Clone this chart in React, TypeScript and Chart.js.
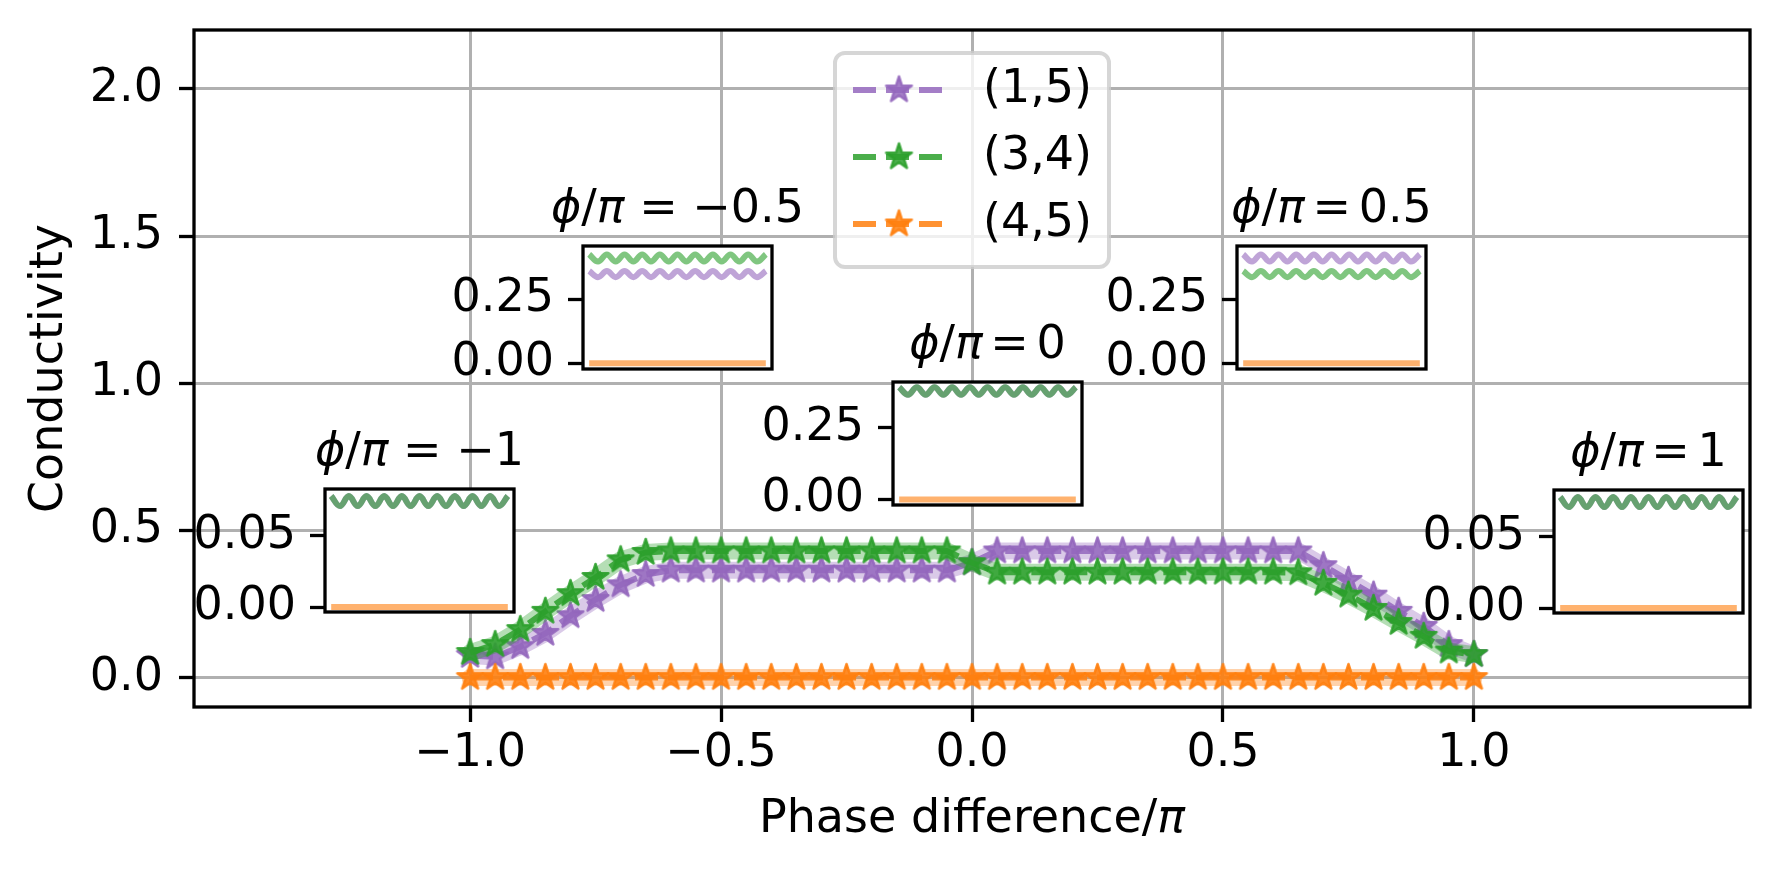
import React, { useEffect, useRef } from 'react';
import { Chart, registerables } from 'chart.js';

Chart.register(...registerables);

// main panel data
const phaseX = [
  -1.0, -0.95, -0.9, -0.85, -0.8, -0.75, -0.7, -0.65, -0.6, -0.55,
  -0.5, -0.45, -0.4, -0.35, -0.3, -0.25, -0.2, -0.15, -0.1, -0.05,
  0.0,
  0.05, 0.1, 0.15, 0.2, 0.25, 0.3, 0.35, 0.4, 0.45, 0.5,
  0.55, 0.6, 0.65, 0.7, 0.75, 0.8, 0.85, 0.9, 0.95, 1.0,
];
const conductivity15 = [
  0.075, 0.07, 0.105, 0.15, 0.21, 0.265, 0.315, 0.35, 0.365, 0.365,
  0.365, 0.365, 0.365, 0.365, 0.365, 0.365, 0.365, 0.365, 0.365, 0.365,
  0.39,
  0.43, 0.43, 0.43, 0.43, 0.43, 0.43, 0.43, 0.43, 0.43, 0.43,
  0.43, 0.43, 0.43, 0.38, 0.33, 0.28, 0.225, 0.174, 0.112, 0.078,
];
const conductivity34 = [
  0.085, 0.112, 0.163, 0.225, 0.285, 0.34, 0.4, 0.425, 0.43, 0.43,
  0.43, 0.43, 0.43, 0.43, 0.43, 0.43, 0.43, 0.43, 0.43, 0.43,
  0.39,
  0.358, 0.358, 0.358, 0.358, 0.358, 0.358, 0.358, 0.358, 0.358, 0.358,
  0.358, 0.358, 0.356, 0.32, 0.28, 0.235, 0.187, 0.14, 0.09, 0.078,
];
const conductivity45 = [
  0, 0, 0, 0, 0, 0, 0, 0, 0, 0,
  0, 0, 0, 0, 0, 0, 0, 0, 0, 0,
  0,
  0, 0, 0, 0, 0, 0, 0, 0, 0, 0,
  0, 0, 0, 0, 0, 0, 0, 0, 0, 0,
];
const seriesLabels = ['(1,5)', '(3,4)', '(4,5)'];
const xTickValues = [-1, -0.5, 0, 0.5, 1];
const yTickValues = [0, 0.5, 1, 1.5, 2];

// inset traces (21 samples each)
const edgeWave = [
  0.078, 0.071, 0.078, 0.071, 0.078, 0.071, 0.078, 0.071, 0.078, 0.071, 0.078,
  0.071, 0.078, 0.071, 0.078, 0.071, 0.078, 0.071, 0.078, 0.071, 0.078,
];
const upperWave = [
  0.426, 0.398, 0.426, 0.398, 0.426, 0.398, 0.426, 0.398, 0.426, 0.398, 0.426,
  0.398, 0.426, 0.398, 0.426, 0.398, 0.426, 0.398, 0.426, 0.398, 0.426,
];
const lowerWave = [
  0.361, 0.337, 0.361, 0.337, 0.361, 0.337, 0.361, 0.337, 0.361, 0.337, 0.361,
  0.337, 0.361, 0.337, 0.361, 0.337, 0.361, 0.337, 0.361, 0.337, 0.361,
];
const centreWave = [
  0.391, 0.365, 0.391, 0.365, 0.391, 0.365, 0.391, 0.365, 0.391, 0.365, 0.391,
  0.365, 0.391, 0.365, 0.391, 0.365, 0.391, 0.365, 0.391, 0.365, 0.391,
];
const flatZero = [0, 0, 0, 0, 0, 0, 0, 0, 0, 0, 0, 0, 0, 0, 0, 0, 0, 0, 0, 0, 0];
const insetPhaseLabels = ['−1', '−0.5', '0', '0.5', '1'];
const edgeTicks = [0, 0.05];
const midTicks = [0, 0.25];

const PURPLE = '148,103,189';
const GREEN = '44,160,44';
const ORANGE = '255,127,14';
const FONT = '"DejaVu Sans", sans-serif';
const FS = 46;

const W = 1779;
const H = 873;

// inset geometry
const IN_W = 189;
const IN_H = 123;
const PAD_L = 140;
const PAD_T = 80;
const PAD_R = 60;
const PAD_B = 30;

const insetSpecs = [
  { left: 325, top: 489, yMin: -0.0035, yMax: 0.083, ticks: edgeTicks, purple: edgeWave, green: edgeWave, label: insetPhaseLabels[0] },
  { left: 583, top: 246, yMin: -0.022, yMax: 0.459, ticks: midTicks, purple: lowerWave, green: upperWave, label: insetPhaseLabels[1] },
  { left: 893, top: 382, yMin: -0.0195, yMax: 0.4095, ticks: midTicks, purple: centreWave, green: centreWave, label: insetPhaseLabels[2] },
  { left: 1237, top: 246, yMin: -0.022, yMax: 0.459, ticks: midTicks, purple: upperWave, green: lowerWave, label: insetPhaseLabels[3] },
  { left: 1554, top: 490, yMin: -0.0035, yMax: 0.083, ticks: edgeTicks, purple: edgeWave, green: edgeWave, label: insetPhaseLabels[4] },
];

function makeStar(rgb: string, radius: number): HTMLCanvasElement {
  const size = Math.ceil(radius * 2 + 6);
  const c = document.createElement('canvas');
  c.width = size;
  c.height = size;
  const g = c.getContext('2d')!;
  const cx = size / 2;
  const cy = size / 2;
  g.beginPath();
  for (let i = 0; i < 10; i++) {
    const r = i % 2 === 0 ? radius : radius * 0.382;
    const a = -Math.PI / 2 + (i * Math.PI) / 5;
    const px = cx + r * Math.cos(a);
    const py = cy + r * Math.sin(a);
    if (i === 0) g.moveTo(px, py);
    else g.lineTo(px, py);
  }
  g.closePath();
  g.fillStyle = `rgba(${rgb},0.85)`;
  g.fill();
  g.lineJoin = 'round';
  g.lineWidth = 2.5;
  g.strokeStyle = `rgba(${rgb},0.9)`;
  g.stroke();
  return c;
}

type Seg = { text: string; italic?: boolean };

function drawRich(ctx: CanvasRenderingContext2D, segs: Seg[], cx: number, baseline: number) {
  const fontOf = (s: Seg) => `${s.italic ? 'italic ' : ''}${FS}px ${FONT}`;
  const widths = segs.map((s) => {
    ctx.font = fontOf(s);
    return ctx.measureText(s.text).width;
  });
  const total = widths.reduce((a, b) => a + b, 0);
  let x = cx - total / 2;
  ctx.textAlign = 'left';
  ctx.textBaseline = 'alphabetic';
  ctx.fillStyle = '#000';
  segs.forEach((s, i) => {
    ctx.font = fontOf(s);
    ctx.fillText(s.text, x, baseline);
    x += widths[i];
  });
}

const fmtMinus = (v: number, digits: number) => v.toFixed(digits).replace('-', '−');

function MainChart() {
  const ref = useRef<HTMLCanvasElement>(null);

  useEffect(() => {
    if (!ref.current) return;
    const stars = [makeStar(PURPLE, 13.5), makeStar(GREEN, 13.5), makeStar(ORANGE, 13.5)];
    const colors = [PURPLE, GREEN, ORANGE];
    const values = [conductivity15, conductivity34, conductivity45];

    // Chart.js paints the first dataset last, so build the stack top-down
    const datasets: any[] = [];
    values.forEach((vals, i) => {
      const pts = phaseX.map((x, j) => ({ x, y: vals[j] }));
      datasets.unshift({
        data: pts,
        borderColor: `rgba(${colors[i]},0.35)`,
        borderWidth: 17,
        borderJoinStyle: 'round',
        borderCapStyle: 'round',
        pointRadius: 0,
        fill: false,
      });
      datasets.unshift({
        label: seriesLabels[i],
        data: pts,
        borderColor: `rgba(${colors[i]},0.85)`,
        borderWidth: 6,
        borderDash: [23, 10],
        pointStyle: stars[i],
        pointRadius: 13,
        fill: false,
      });
    });

    const framePlugin = {
      id: 'frame',
      afterDatasetsDraw(chart: any) {
        const { ctx, chartArea: a } = chart;
        ctx.save();
        ctx.strokeStyle = '#000';
        ctx.lineWidth = 3.3;
        ctx.strokeRect(a.left, a.top, a.right - a.left, a.bottom - a.top);
        ctx.restore();
      },
    };

    const xLabelPlugin = {
      id: 'xLabel',
      afterDraw(chart: any) {
        const { ctx, chartArea: a } = chart;
        ctx.save();
        drawRich(ctx, [{ text: 'Phase difference/' }, { text: 'π', italic: true }], (a.left + a.right) / 2, 832);
        ctx.restore();
      },
    };

    const legendPlugin = {
      id: 'starLegend',
      afterDraw(chart: any) {
        const { ctx, chartArea: a } = chart;
        const x0 = a.left + 641;
        const y0 = a.top + 23;
        const w = 274;
        const h = 214;
        const r = 10;
        ctx.save();
        ctx.beginPath();
        ctx.moveTo(x0 + r, y0);
        ctx.arcTo(x0 + w, y0, x0 + w, y0 + h, r);
        ctx.arcTo(x0 + w, y0 + h, x0, y0 + h, r);
        ctx.arcTo(x0, y0 + h, x0, y0, r);
        ctx.arcTo(x0, y0, x0 + w, y0, r);
        ctx.closePath();
        ctx.fillStyle = 'rgba(255,255,255,0.8)';
        ctx.fill();
        ctx.lineWidth = 4;
        ctx.strokeStyle = 'rgba(204,204,204,0.8)';
        ctx.stroke();
        seriesLabels.forEach((lab, i) => {
          const cy = y0 + 37 + i * 67;
          ctx.setLineDash([23, 10]);
          ctx.lineWidth = 6;
          ctx.strokeStyle = `rgba(${colors[i]},0.85)`;
          ctx.beginPath();
          ctx.moveTo(x0 + 18, cy);
          ctx.lineTo(x0 + 108, cy);
          ctx.stroke();
          ctx.setLineDash([]);
          const s = stars[i];
          ctx.drawImage(s, x0 + 64 - s.width / 2, cy - s.height / 2);
          ctx.font = `${FS}px ${FONT}`;
          ctx.fillStyle = '#000';
          ctx.textAlign = 'left';
          ctx.textBaseline = 'middle';
          ctx.fillText(lab, x0 + 148, cy);
        });
        ctx.restore();
      },
    };

    const tickFont = { family: FONT, size: FS };
    const chart = new Chart(ref.current, {
      type: 'line',
      data: { datasets },
      options: {
        animation: false,
        responsive: false,
        devicePixelRatio: 1,
        events: [],
        layout: { padding: { left: 0, right: W - 1750, top: 30, bottom: 0 } },
        plugins: { legend: { display: false }, tooltip: { enabled: false } },
        elements: { line: { tension: 0 } },
        scales: {
          x: {
            type: 'linear',
            min: -1.55,
            max: 1.55,
            afterBuildTicks: (s: any) => {
              s.ticks = xTickValues.map((value) => ({ value }));
            },
            afterFit: (s: any) => {
              s.height = H - 707;
              s.paddingLeft = 0;
              s.paddingRight = 0;
            },
            grid: { color: '#b0b0b0', lineWidth: 3, tickLength: 15, tickColor: '#000', tickWidth: 3.3 },
            border: { display: false },
            ticks: {
              font: tickFont,
              color: '#000',
              padding: 4,
              autoSkip: false,
              maxRotation: 0,
              callback: (v: any) => fmtMinus(Number(v), 1),
            },
          },
          y: {
            type: 'linear',
            min: -0.1,
            max: 2.2,
            afterBuildTicks: (s: any) => {
              s.ticks = yTickValues.map((value) => ({ value }));
            },
            afterFit: (s: any) => {
              s.width = 194;
              s.paddingTop = 0;
              s.paddingBottom = 0;
            },
            grid: { color: '#b0b0b0', lineWidth: 3, tickLength: 15, tickColor: '#000', tickWidth: 3.3 },
            border: { display: false },
            ticks: {
              font: tickFont,
              color: '#000',
              padding: 16,
              callback: (v: any) => fmtMinus(Number(v), 1),
            },
            title: {
              display: true,
              text: 'Conductivity',
              color: '#000',
              font: { family: FONT, size: FS },
              padding: { top: 22, bottom: 0 },
            },
          },
        },
      } as any,
      plugins: [framePlugin, xLabelPlugin, legendPlugin],
    });

    return () => chart.destroy();
  }, []);

  return (
    <canvas
      ref={ref}
      width={W}
      height={H}
      style={{ position: 'absolute', left: 0, top: 0, width: W, height: H }}
    />
  );
}

function InsetChart({ spec }: { spec: (typeof insetSpecs)[number] }) {
  const ref = useRef<HTMLCanvasElement>(null);
  const cw = PAD_L + IN_W + PAD_R;
  const ch = PAD_T + IN_H + PAD_B;

  useEffect(() => {
    if (!ref.current) return;
    const toPts = (vals: number[]) => vals.map((y, i) => ({ x: i, y }));
    const trace = (vals: number[], rgb: string) => ({
      data: toPts(vals),
      borderColor: `rgba(${rgb},0.6)`,
      borderWidth: 6,
      borderCapStyle: 'butt',
      pointRadius: 0,
      tension: 0.4,
      fill: false,
    });
    // mathtext puts tighter space round "=" unless a minus follows
    const eq = spec.label.startsWith('−') ? ' = ' : '\u2006=\u2006';

    const boxPlugin = {
      id: 'insetBox',
      beforeDraw(chart: any) {
        const { ctx, chartArea: a } = chart;
        ctx.save();
        ctx.fillStyle = '#fff';
        ctx.fillRect(a.left, a.top, a.right - a.left, a.bottom - a.top);
        ctx.restore();
      },
      afterDraw(chart: any) {
        const { ctx, chartArea: a } = chart;
        ctx.save();
        ctx.strokeStyle = '#000';
        ctx.lineWidth = 3.3;
        ctx.strokeRect(a.left, a.top, a.right - a.left, a.bottom - a.top);
        drawRich(
          ctx,
          [
            { text: 'ϕ', italic: true },
            { text: '/' },
            { text: 'π', italic: true },
            { text: eq + spec.label },
          ],
          (a.left + a.right) / 2,
          a.top - 24
        );
        ctx.restore();
      },
    };

    // orange drawn on top, then green, then purple underneath
    const chart = new Chart(ref.current, {
      type: 'line',
      data: {
        datasets: [trace(flatZero, ORANGE), trace(spec.green, GREEN), trace(spec.purple, PURPLE)],
      },
      options: {
        animation: false,
        responsive: false,
        devicePixelRatio: 1,
        events: [],
        layout: { padding: { left: 0, right: PAD_R, top: PAD_T, bottom: PAD_B } },
        plugins: { legend: { display: false }, tooltip: { enabled: false } },
        scales: {
          x: { type: 'linear', min: -0.7, max: 20.7, display: false },
          y: {
            type: 'linear',
            min: spec.yMin,
            max: spec.yMax,
            afterBuildTicks: (s: any) => {
              s.ticks = spec.ticks.map((value) => ({ value }));
            },
            afterFit: (s: any) => {
              s.width = PAD_L;
              s.paddingTop = 0;
              s.paddingBottom = 0;
            },
            grid: { drawOnChartArea: false, tickLength: 15, tickColor: '#000', tickWidth: 3.3 },
            border: { display: false },
            ticks: {
              font: { family: FONT, size: FS },
              color: '#000',
              padding: 14,
              callback: (v: any) => fmtMinus(Number(v), 2),
            },
          },
        },
      } as any,
      plugins: [boxPlugin],
    });

    return () => chart.destroy();
  }, [spec]);

  return (
    <canvas
      ref={ref}
      width={cw}
      height={ch}
      style={{
        position: 'absolute',
        left: spec.left - PAD_L,
        top: spec.top - PAD_T,
        width: cw,
        height: ch,
      }}
    />
  );
}

export default function App() {
  return (
    <div
      style={{
        position: 'absolute',
        left: 0,
        top: 0,
        width: W,
        height: H,
        overflow: 'hidden',
        background: '#fff',
      }}
    >
      <MainChart />
      {insetSpecs.map((s, i) => (
        <InsetChart key={i} spec={s} />
      ))}
    </div>
  );
}
